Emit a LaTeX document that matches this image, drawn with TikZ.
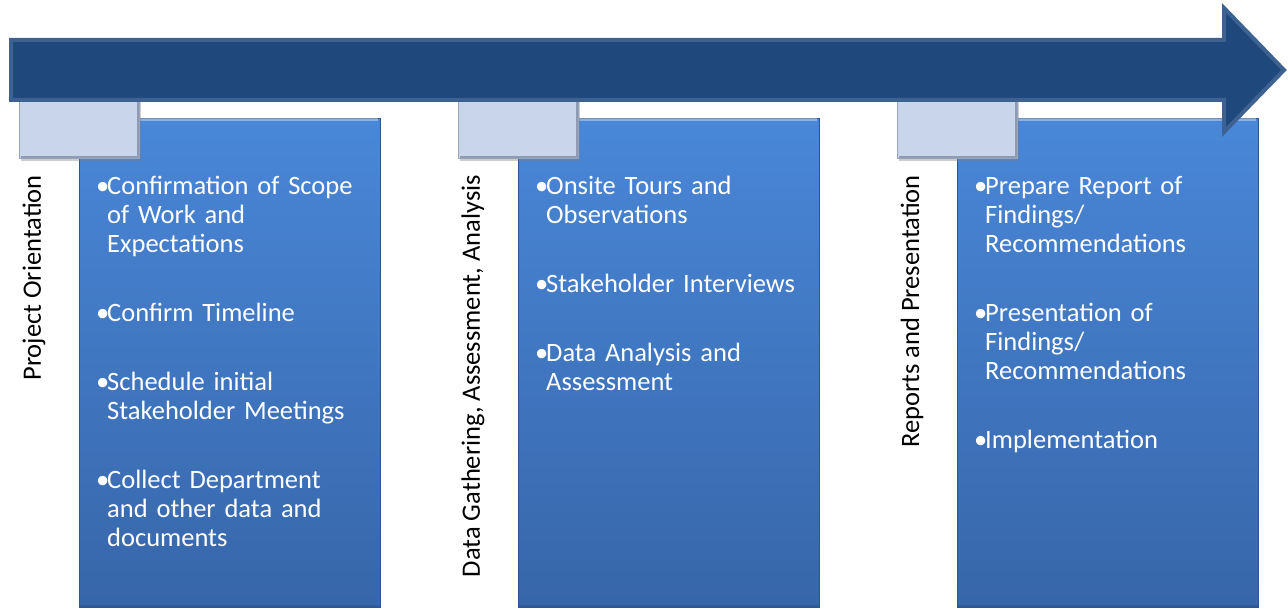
\documentclass[tikz,border=0pt]{standalone}
\usepackage{fontspec}
\setmainfont{Carlito}
\usetikzlibrary{positioning}
\usetikzlibrary{shadows}

\definecolor{arrowblue}{HTML}{1F497D}
\definecolor{arrowedge}{HTML}{3D6292}
\definecolor{tabfill}{HTML}{C9D5EA}
\definecolor{tabedge}{HTML}{97A5BD}
\definecolor{tabdark}{HTML}{8E9BB2}
\definecolor{cardtop}{HTML}{4987D8}
\definecolor{cardbottom}{HTML}{3766A9}
\definecolor{cardedge}{HTML}{2C5693}

% forced line break that stays in the same paragraph
\newcommand{\brk}{\hfil\break}
% one bullet point with hanging indent
\newcommand{\bulitem}[1]{\noindent\hangindent=11pt\hangafter=1\makebox[11pt][l]{\textbullet}#1\par\vspace{40pt}}

\begin{document}
\begin{tikzpicture}[x=1pt,y=-1pt,
	card/.style={draw=cardedge,line width=1pt,top color=cardtop,bottom color=cardbottom,
		minimum width=301pt,minimum height=489pt,anchor=north west,inner sep=0pt},
	tab/.style={draw=tabedge,line width=1pt,fill=tabfill,
		drop shadow={opacity=0.4,shadow xshift=1pt,shadow yshift=-3pt},
		minimum width=120pt,minimum height=70pt,anchor=south west,inner sep=0pt},
	itemlist/.style={text=white,text width=290pt,align=left,inner sep=0pt,anchor=base west,
		font=\fontsize{26.5}{29}\selectfont},
	phase/.style={rotate=90,anchor=east,inner sep=0pt,font=\fontsize{26.5}{29}\selectfont}]
	\useasboundingbox (0,0) rectangle (1288,609);
	
	% big cards
	\node[card] (card1) at (79,118) {};
	\node[card] (card2) at (518,118) {};
	\node[card] (card3) at (957,118) {};
	\foreach \c in {card1,card2,card3}{
		\draw[white,opacity=0.35,line width=3pt] ([xshift=3pt,yshift=-2pt]\c.north west) -- ([xshift=-3pt,yshift=-2pt]\c.north east);
		\draw[cardedge,opacity=0.6,line width=3pt] ([yshift=2pt]\c.south west) -- ([yshift=2pt]\c.south east);
	}
	
	% small tabs, half hidden under the timeline
	\node[tab] (tab1) at (19,159) {};
	\node[tab] (tab2) at (458,159) {};
	\node[tab] (tab3) at (897,159) {};
	\foreach \t in {tab1,tab2,tab3}{
		\draw[tabdark,line width=2pt] ([xshift=2pt,yshift=2pt]\t.south west) -- ([xshift=-2pt,yshift=2pt]\t.south east) -- ([xshift=-2pt]\t.north east);
	}
	
	% timeline arrow
	\draw[arrowedge,fill=arrowblue,line width=4pt,line join=miter]
		(11,40) -- (1224,40) -- (1224,8) -- (1284,70) -- (1224,132) -- (1224,100) -- (11,100) -- cycle;
	
	% phase names
	\node[phase] (phase1) at (34,175) {Project Orientation};
	\node[phase] (phase2) at (473,175) {Data Gathering, Assessment, Analysis};
	\node[phase] (phase3) at (912,175) {Reports and Presentation};
	
	% tasks of each phase
	\node[itemlist] (list1) at (96,195) {%
		\bulitem{Confirmation of Scope\brk of Work and\brk Expectations}%
		\bulitem{Confirm Timeline}%
		\bulitem{Schedule initial\brk Stakeholder Meetings}%
		\bulitem{Collect Department\brk and other data and\brk documents}};
	\node[itemlist] (list2) at (535,195) {%
		\bulitem{Onsite Tours and\brk Observations}%
		\bulitem{Stakeholder Interviews}%
		\bulitem{Data Analysis and\brk Assessment}};
	\node[itemlist] (list3) at (974,195) {%
		\bulitem{Prepare Report of\brk Findings/\brk Recommendations}%
		\bulitem{Presentation of\brk Findings/\brk Recommendations}%
		\bulitem{Implementation}};
\end{tikzpicture}
\end{document}
